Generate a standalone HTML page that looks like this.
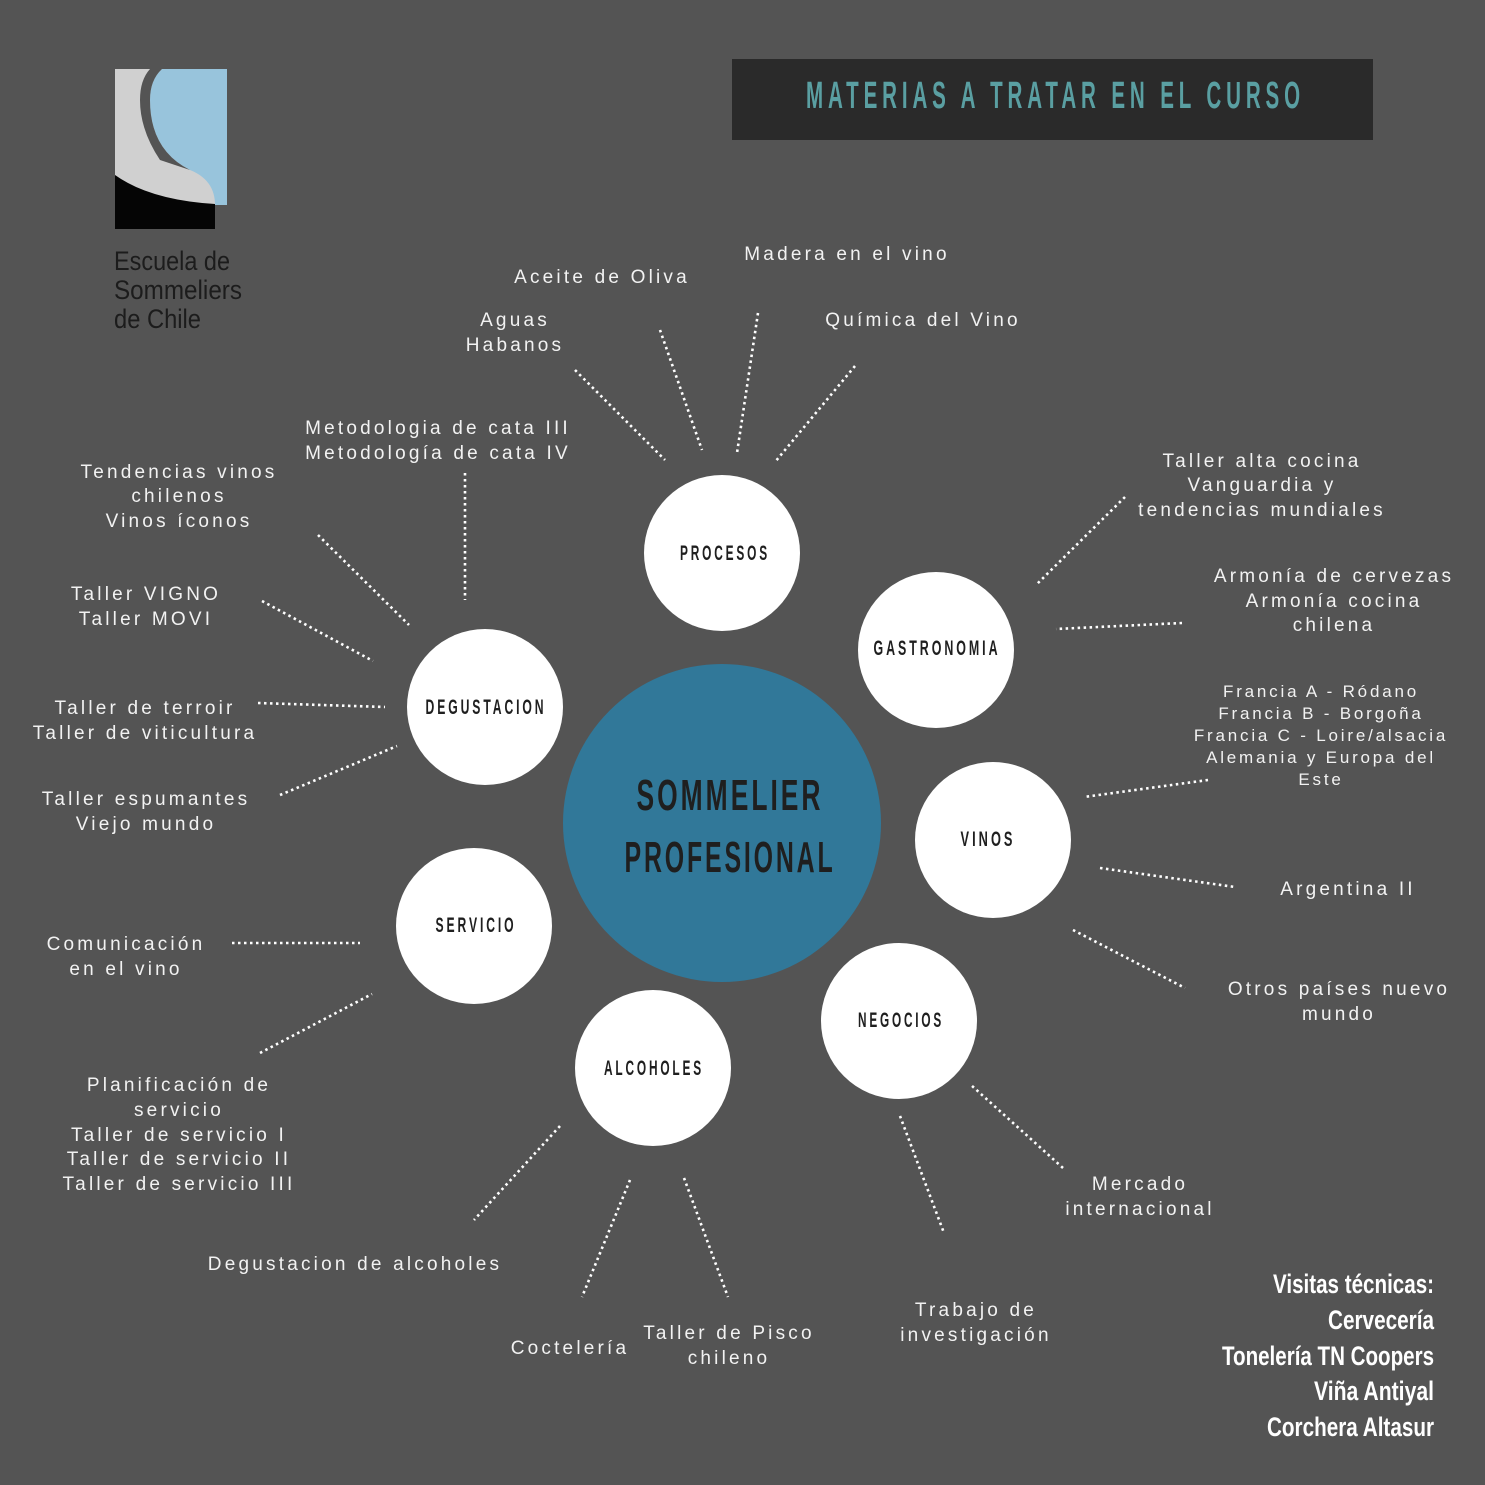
<!DOCTYPE html>
<html><head><meta charset="utf-8"><style>
html,body{margin:0;padding:0;background:#545454;}
svg{display:block}
.t{font-family:"Liberation Sans",sans-serif;font-size:19px;fill:#f2f2f2;letter-spacing:3.2px;text-anchor:middle}
.f{font-family:"Liberation Sans",sans-serif;font-size:17px;fill:#f2f2f2;letter-spacing:2.8px;text-anchor:middle}
.c{font-family:"Liberation Sans",sans-serif;font-weight:bold;fill:#1f1f1f;text-anchor:middle;letter-spacing:5px}
.d{stroke:#fff;stroke-width:2.6;stroke-dasharray:2.5 3.5;fill:none}
</style></head><body>
<svg width="1485" height="1485" viewBox="0 0 1485 1485" xmlns="http://www.w3.org/2000/svg">
<rect width="1485" height="1485" fill="#545454"/>
<!-- logo -->
<rect x="115" y="69" width="100" height="160" fill="#d0d0d0"/>
<path d="M162 69 L227 69 L227 205 L215 205 Q215 180 190 170 Q150 150 150 100 Q150 80 162 69Z" fill="#98c4dc"/>
<path d="M150 69 L162 69 Q150 80 150 100 Q150 150 190 170 L160 160 Q140 130 140 100 Q140 80 150 69Z" fill="#545454"/>
<path d="M115 175 Q150 200 215 204 L215 229 L115 229Z" fill="#050505"/>
<g font-family="Liberation Sans,sans-serif" font-size="27" fill="#1c1c1c">
<text x="114" y="270" textLength="116" lengthAdjust="spacingAndGlyphs">Escuela de</text>
<text x="114" y="299" textLength="128" lengthAdjust="spacingAndGlyphs">Sommeliers</text>
<text x="114" y="328" textLength="87" lengthAdjust="spacingAndGlyphs">de Chile</text>
</g>
<!-- title -->
<rect x="732" y="59" width="641" height="81" fill="#2a2a2a"/>
<text x="806" y="108" font-family="Liberation Sans,sans-serif" font-weight="bold" font-size="38" letter-spacing="9" fill="#5a9fa2" textLength="499" lengthAdjust="spacingAndGlyphs">MATERIAS A TRATAR EN EL CURSO</text>
<!-- dotted lines -->
<path class="d" d="M575 370L665 460 M660 330L702 450 M758 313L737 453 M855 366L775 462
M1125 497L1036 585 M1182 623L1056 629 M1208 780L1084 797 M1100 868L1235 887 M1073 930L1185 988
M1063 1168L971 1085 M900 1116L944 1233 M684 1178L728 1297 M630 1180L582 1297 M560 1126L474 1220
M260 1053L372 994 M232 943L360 943 M280 795L397 746 M258 703L385 707 M262 601L373 661 M318 535L409 625 M465 473L465 600"/>
<!-- circles -->
<circle cx="722" cy="823" r="159" fill="#317899"/>
<text class="c" x="730" y="810" font-size="44" letter-spacing="9" textLength="187" lengthAdjust="spacingAndGlyphs">SOMMELIER</text>
<text class="c" x="730" y="872" font-size="44" letter-spacing="9" textLength="211" lengthAdjust="spacingAndGlyphs">PROFESIONAL</text>
<g fill="#fff">
<circle cx="722" cy="553" r="78"/><circle cx="936" cy="650" r="78"/><circle cx="485" cy="707" r="78"/>
<circle cx="993" cy="840" r="78"/><circle cx="474" cy="926" r="78"/><circle cx="899" cy="1021" r="78"/><circle cx="653" cy="1068" r="78"/>
</g>
<g font-size="21">
<text class="c" x="725" y="560" textLength="90" lengthAdjust="spacingAndGlyphs">PROCESOS</text>
<text class="c" x="937" y="655" textLength="127" lengthAdjust="spacingAndGlyphs">GASTRONOMIA</text>
<text class="c" x="486" y="714" textLength="121" lengthAdjust="spacingAndGlyphs">DEGUSTACION</text>
<text class="c" x="988" y="846" textLength="55" lengthAdjust="spacingAndGlyphs">VINOS</text>
<text class="c" x="476" y="932" textLength="81" lengthAdjust="spacingAndGlyphs">SERVICIO</text>
<text class="c" x="901" y="1027" textLength="86" lengthAdjust="spacingAndGlyphs">NEGOCIOS</text>
<text class="c" x="654" y="1075" textLength="100" lengthAdjust="spacingAndGlyphs">ALCOHOLES</text>
</g>
<!-- labels -->
<text class="t" x="847" y="260">Madera en el vino</text>
<text class="t" x="602" y="283">Aceite de Oliva</text>
<text class="t" x="923" y="326">Química del Vino</text>
<text class="t" x="515" y="326">Aguas</text><text class="t" x="515" y="351">Habanos</text>
<text class="t" x="438" y="434">Metodologia de cata III</text><text class="t" x="438" y="459">Metodología de cata IV</text>
<text class="t" x="179" y="478">Tendencias vinos</text><text class="t" x="179" y="502">chilenos</text><text class="t" x="179" y="527">Vinos íconos</text>
<text class="t" x="146" y="600">Taller VIGNO</text><text class="t" x="146" y="625">Taller MOVI</text>
<text class="t" x="145" y="714">Taller de terroir</text><text class="t" x="145" y="739">Taller de viticultura</text>
<text class="t" x="146" y="805">Taller espumantes</text><text class="t" x="146" y="830">Viejo mundo</text>
<text class="t" x="126" y="950">Comunicación</text><text class="t" x="126" y="975">en el vino</text>
<text class="t" x="179" y="1091">Planificación de</text><text class="t" x="179" y="1116">servicio</text>
<text class="t" x="179" y="1141">Taller de servicio I</text><text class="t" x="179" y="1165">Taller de servicio II</text><text class="t" x="179" y="1190">Taller de servicio III</text>
<text class="t" x="355" y="1270">Degustacion de alcoholes</text>
<text class="t" x="570" y="1354">Coctelería</text>
<text class="t" x="729" y="1339">Taller de Pisco</text><text class="t" x="729" y="1364">chileno</text>
<text class="t" x="976" y="1316">Trabajo de</text><text class="t" x="976" y="1341">investigación</text>
<text class="t" x="1140" y="1190">Mercado</text><text class="t" x="1140" y="1215">internacional</text>
<text class="t" x="1339" y="995">Otros países nuevo</text><text class="t" x="1339" y="1020">mundo</text>
<text class="t" x="1348" y="895">Argentina II</text>
<text class="f" x="1321" y="697">Francia A - Ródano</text><text class="f" x="1321" y="719">Francia B - Borgoña</text><text class="f" x="1321" y="741">Francia C - Loire/alsacia</text><text class="f" x="1321" y="763">Alemania y Europa del</text><text class="f" x="1321" y="785">Este</text>
<text class="t" x="1334" y="582">Armonía de cervezas</text><text class="t" x="1334" y="607">Armonía cocina</text><text class="t" x="1334" y="631">chilena</text>
<text class="t" x="1262" y="467">Taller alta cocina</text><text class="t" x="1262" y="491">Vanguardia y</text><text class="t" x="1262" y="516">tendencias mundiales</text>
<g font-family="Liberation Sans,sans-serif" font-weight="bold" font-size="27" fill="#fff" text-anchor="end">
<text x="1434" y="1293" textLength="161" lengthAdjust="spacingAndGlyphs">Visitas técnicas:</text>
<text x="1434" y="1329" textLength="106" lengthAdjust="spacingAndGlyphs">Cervecería</text>
<text x="1434" y="1365" textLength="212" lengthAdjust="spacingAndGlyphs">Tonelería TN Coopers</text>
<text x="1434" y="1400" textLength="120" lengthAdjust="spacingAndGlyphs">Viña Antiyal</text>
<text x="1434" y="1436" textLength="167" lengthAdjust="spacingAndGlyphs">Corchera Altasur</text>
</g>
</svg>
</body></html>
